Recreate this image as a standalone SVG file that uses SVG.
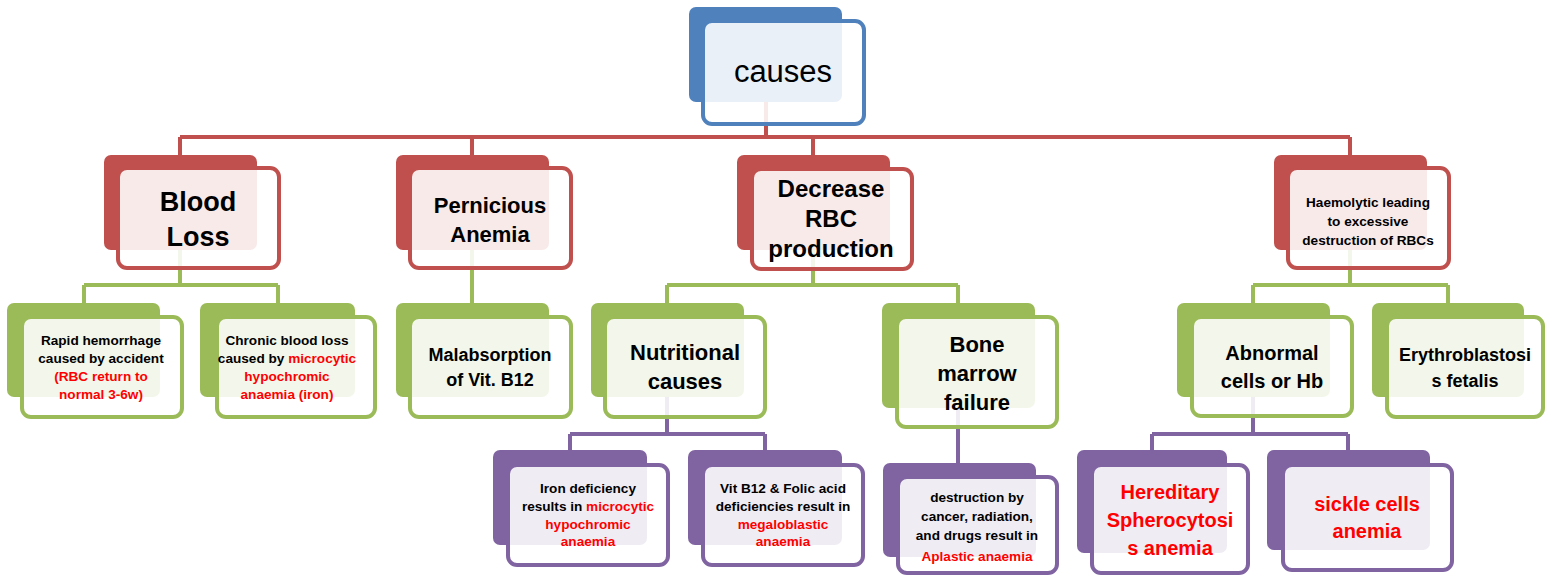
<svg xmlns="http://www.w3.org/2000/svg" width="1546" height="577" viewBox="0 0 1546 577">
  <style>
    .bg { fill: #ffffff; }
    .back { stroke: none; }
    .front { fill: #ffffff; fill-opacity: 0.88; stroke-width: 4; }
    .blue .back { fill: #4F81BD; } .blue .front { stroke: #4F81BD; }
    .red .back { fill: #C0504D; } .red .front { stroke: #C0504D; }
    .green .back { fill: #9BBB59; } .green .front { stroke: #9BBB59; }
    .purple .back { fill: #8064A2; } .purple .front { stroke: #8064A2; }
    .link { fill: none; stroke-width: 4; }
    .link.r { stroke: #C0504D; }
    .link.g { stroke: #9BBB59; }
    .link.p { stroke: #8064A2; }
    text { font-family: "Liberation Sans", Arial, sans-serif; font-weight: bold; fill: #000000; text-anchor: middle; }
    .hl { fill: #FF0000; }
    .s13 { font-size: 13.6px; }
    .s18 { font-size: 18px; }
    .s20 { font-size: 20px; }
    .s22 { font-size: 22px; }
    .s24 { font-size: 24px; }
    .s27 { font-size: 27px; }
  </style>

  <rect class="bg" x="0" y="0" width="1546" height="577"/>

  <!-- elbow connectors, drawn beneath the boxes -->
  <g id="connectors">
    <path class="link r" d="M766 102 V137 M180 137 H1350 M180 137 V155 M472 137 V155 M813 137 V155 M1350 137 V155"/>
    <path class="link g" d="M180 250 V285 M84 285 H278 M84 285 V303 M278 285 V303"/>
    <path class="link g" d="M472 250 V303"/>
    <path class="link g" d="M813 250 V285 M667 285 H958 M667 285 V303 M958 285 V303"/>
    <path class="link g" d="M1350 250 V285 M1253 285 H1448 M1253 285 V303 M1448 285 V303"/>
    <path class="link p" d="M667 397 V434 M570 434 H765 M570 434 V450 M765 434 V450"/>
    <path class="link p" d="M958 408 V463"/>
    <path class="link p" d="M1253 397 V434 M1152 434 H1348 M1152 434 V450 M1348 434 V450"/>
  </g>

  <!-- root -->
  <g id="node-causes" class="blue">
    <rect class="back" x="689" y="7" width="153" height="95" rx="7"/>
    <rect class="front" x="703" y="21" width="161" height="103" rx="9"/>
    <text x="783" y="82" style="font-weight:normal;font-size:31px">causes</text>
  </g>

  <!-- level 1 -->
  <g id="node-blood-loss" class="red">
    <rect class="back" x="104" y="155" width="153" height="95" rx="7"/>
    <rect class="front" x="118" y="168" width="161" height="100" rx="9"/>
    <text class="s27" x="198" y="211">Blood</text>
    <text class="s27" x="198" y="246">Loss</text>
  </g>

  <g id="node-pernicious" class="red">
    <rect class="back" x="396" y="155" width="153" height="95" rx="7"/>
    <rect class="front" x="410" y="168" width="161" height="100" rx="9"/>
    <text class="s22" x="490" y="213">Pernicious</text>
    <text class="s22" x="490" y="242">Anemia</text>
  </g>

  <g id="node-decrease" class="red">
    <rect class="back" x="737" y="155" width="153" height="95" rx="7"/>
    <rect class="front" x="752" y="169" width="160" height="100" rx="9"/>
    <text class="s24" x="831" y="197">Decrease</text>
    <text class="s24" x="831" y="227">RBC</text>
    <text class="s24" x="831" y="257">production</text>
  </g>

  <g id="node-haemolytic" class="red">
    <rect class="back" x="1274" y="155" width="153" height="95" rx="7"/>
    <rect class="front" x="1288" y="168" width="161" height="100" rx="9"/>
    <text class="s13" x="1368" y="207">Haemolytic leading</text>
    <text class="s13" x="1368" y="226">to excessive</text>
    <text class="s13" x="1368" y="245">destruction of RBCs</text>
  </g>

  <!-- level 2 -->
  <g id="node-rapid" class="green">
    <rect class="back" x="7" y="303" width="153" height="94" rx="7"/>
    <rect class="front" x="22" y="317" width="160" height="100" rx="9"/>
    <text class="s13" x="101" y="345">Rapid hemorrhage</text>
    <text class="s13" x="101" y="363">caused by accident</text>
    <text class="s13 hl" x="101" y="381">(RBC return to</text>
    <text class="s13 hl" x="101" y="399">normal 3-6w)</text>
  </g>

  <g id="node-chronic" class="green">
    <rect class="back" x="200" y="303" width="155" height="94" rx="7"/>
    <rect class="front" x="217" y="317" width="158" height="100" rx="9"/>
    <text class="s13" x="287" y="345">Chronic blood loss</text>
    <text class="s13" x="287" y="363">caused by <tspan class="hl">microcytic</tspan></text>
    <text class="s13 hl" x="287" y="381">hypochromic</text>
    <text class="s13 hl" x="287" y="399">anaemia (iron)</text>
  </g>

  <g id="node-malabsorption" class="green">
    <rect class="back" x="396" y="303" width="153" height="94" rx="7"/>
    <rect class="front" x="410" y="317" width="161" height="100" rx="9"/>
    <text class="s18" x="490" y="361">Malabsorption</text>
    <text class="s18" x="490" y="386">of Vit. B12</text>
  </g>

  <g id="node-nutritional" class="green">
    <rect class="back" x="591" y="303" width="153" height="94" rx="7"/>
    <rect class="front" x="605" y="317" width="160" height="100" rx="9"/>
    <text class="s22" x="685" y="360">Nutritional</text>
    <text class="s22" x="685" y="389">causes</text>
  </g>

  <g id="node-bone-marrow" class="green">
    <rect class="back" x="882" y="303" width="153" height="105" rx="7"/>
    <rect class="front" x="897" y="317" width="160" height="110" rx="9"/>
    <text class="s22" x="977" y="352">Bone</text>
    <text class="s22" x="977" y="381">marrow</text>
    <text class="s22" x="977" y="410">failure</text>
  </g>

  <g id="node-abnormal" class="green">
    <rect class="back" x="1177" y="303" width="153" height="94" rx="7"/>
    <rect class="front" x="1192" y="317" width="160" height="99" rx="9"/>
    <text class="s20" x="1272" y="360">Abnormal</text>
    <text class="s20" x="1272" y="388">cells or Hb</text>
  </g>

  <g id="node-erythroblastosis" class="green">
    <rect class="back" x="1372" y="303" width="152" height="94" rx="7"/>
    <rect class="front" x="1387" y="317" width="156" height="100" rx="9"/>
    <text class="s18" x="1465" y="361">Erythroblastosi</text>
    <text class="s18" x="1465" y="387">s fetalis</text>
  </g>

  <!-- level 3 -->
  <g id="node-iron" class="purple">
    <rect class="back" x="493" y="450" width="154" height="95" rx="7"/>
    <rect class="front" x="508" y="465" width="160" height="100" rx="9"/>
    <text class="s13" x="588" y="493">Iron deficiency</text>
    <text class="s13" x="588" y="511">results in <tspan class="hl">microcytic</tspan></text>
    <text class="s13 hl" x="588" y="529">hypochromic</text>
    <text class="s13 hl" x="588" y="546">anaemia</text>
  </g>

  <g id="node-vitb12" class="purple">
    <rect class="back" x="688" y="450" width="154" height="95" rx="7"/>
    <rect class="front" x="703" y="465" width="160" height="100" rx="9"/>
    <text class="s13" x="783" y="493">Vit B12 &amp; Folic acid</text>
    <text class="s13" x="783" y="511">deficiencies result in</text>
    <text class="s13 hl" x="783" y="529">megaloblastic</text>
    <text class="s13 hl" x="783" y="546">anaemia</text>
  </g>

  <g id="node-destruction" class="purple">
    <rect class="back" x="883" y="463" width="153" height="94" rx="7"/>
    <rect class="front" x="898" y="477" width="159" height="96" rx="9"/>
    <text class="s13" x="977" y="502">destruction by</text>
    <text class="s13" x="977" y="521">cancer, radiation,</text>
    <text class="s13" x="977" y="540">and drugs result in</text>
    <text class="s13 hl" x="977" y="561">Aplastic anaemia</text>
  </g>

  <g id="node-hereditary" class="purple">
    <rect class="back" x="1077" y="450" width="150" height="103" rx="7"/>
    <rect class="front" x="1092" y="465" width="156" height="108" rx="9"/>
    <text class="s20 hl" x="1170" y="499">Hereditary</text>
    <text class="s20 hl" x="1170" y="527">Spherocytosi</text>
    <text class="s20 hl" x="1170" y="555">s anemia</text>
  </g>

  <g id="node-sickle" class="purple">
    <rect class="back" x="1267" y="450" width="163" height="100" rx="7"/>
    <rect class="front" x="1283" y="465" width="169" height="105" rx="9"/>
    <text class="s20 hl" x="1367" y="511">sickle cells</text>
    <text class="s20 hl" x="1367" y="538">anemia</text>
  </g>
</svg>
